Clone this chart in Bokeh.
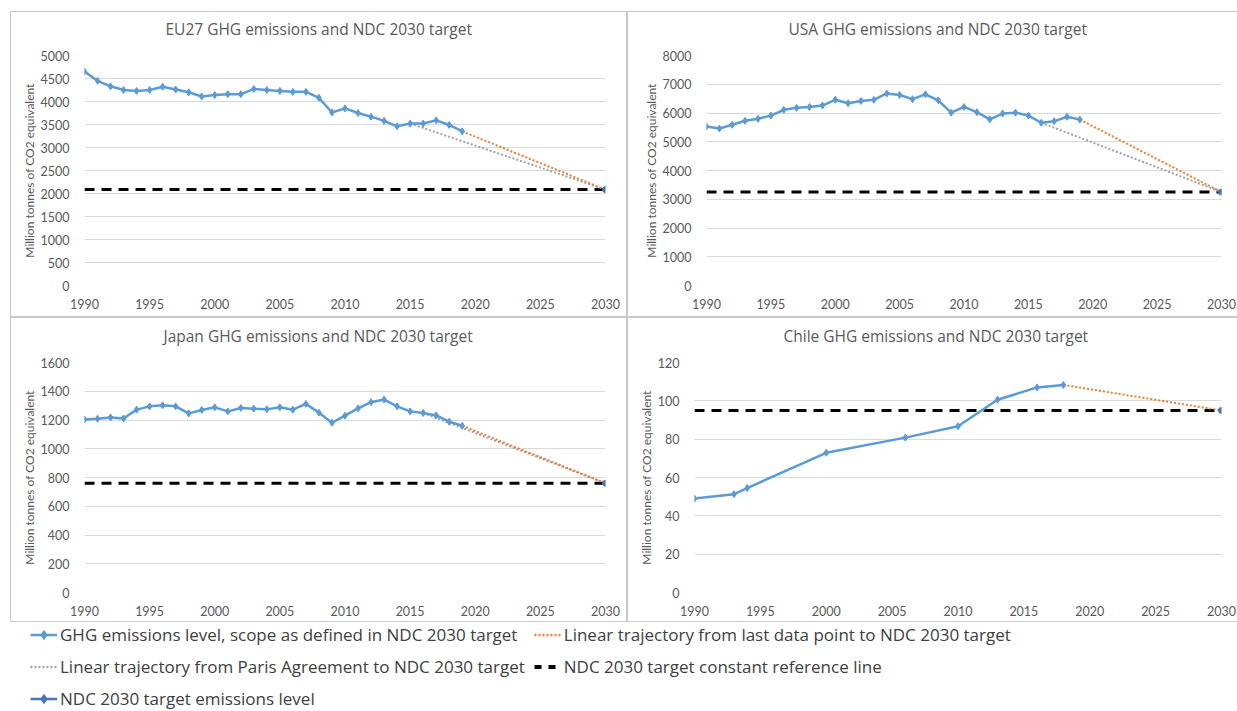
from bokeh.plotting import figure
from bokeh.layouts import column, row
from bokeh.models import Range1d, FixedTicker, Legend, LegendItem, Title
from bokeh.embed import file_html
from bokeh.resources import INLINE

# ---------------- data ----------------
eu_years = list(range(1990, 2020))
eu_values = [4650, 4450, 4330, 4250, 4230, 4250, 4320, 4260, 4200, 4110,
             4140, 4160, 4160, 4270, 4250, 4230, 4210, 4210, 4080, 3760,
             3850, 3750, 3670, 3580, 3460, 3520, 3520, 3590, 3490, 3350]
eu_target = 2085
eu_paris_year = 2015

usa_years = list(range(1990, 2020))
usa_values = [5530, 5460, 5590, 5730, 5800, 5910, 6110, 6180, 6210, 6260,
              6460, 6340, 6420, 6460, 6680, 6630, 6480, 6650, 6440, 6010,
              6210, 6030, 5780, 5980, 6010, 5910, 5660, 5710, 5870, 5770]
usa_target = 3250
usa_paris_year = 2016

jp_years = list(range(1990, 2020))
jp_values = [1204, 1209, 1218, 1211, 1272, 1295, 1302, 1295, 1246, 1270,
             1288, 1260, 1284, 1279, 1274, 1288, 1272, 1312, 1251, 1181,
             1230, 1281, 1324, 1342, 1295, 1260, 1249, 1232, 1188, 1160]
jp_target = 760
jp_paris_year = 2016

cl_years = [1990, 1993, 1994, 2000, 2006, 2010, 2013, 2016, 2018]
cl_values = [49.0, 51.3, 54.5, 72.9, 80.8, 86.7, 100.6, 107.0, 108.3]
cl_target = 95
cl_paris_year = None

target_year = 2030
x_ticks = [1990, 1995, 2000, 2005, 2010, 2015, 2020, 2025, 2030]

titles = ["EU27 GHG emissions and NDC 2030 target",
          "USA GHG emissions and NDC 2030 target",
          "Japan GHG emissions and NDC 2030 target",
          "Chile GHG emissions and NDC 2030 target"]
y_label = "Million tonnes of CO2 equivalent"
legend_labels = ["GHG emissions level, scope as defined in NDC 2030 target",
                 "Linear trajectory from last data point to NDC 2030 target",
                 "Linear trajectory from Paris Agreement to NDC 2030 target",
                 "NDC 2030 target constant reference line",
                 "NDC 2030 target emissions level"]

# ---------------- style ----------------
FONT = "Lato"
TFONT = "Open Sans"
TXT = "#595959"
GRID = "#d9d9d9"
BLUE = "#5b9bd5"
ORANGE = "#ed7d31"
GRAY = "#a0a0a8"
DARKBLUE = "#4472c4"
LEFT_BOX = {"border": "1px solid #c8c8c8"}
RIGHT_BOX = {"border-top": "1px solid #c8c8c8", "border-bottom": "1px solid #c8c8c8",
             "border-left": "1px solid #c8c8c8"}


def make_panel(title, years, vals, target, paris_year, ymax, ystep,
               w, h, ml, mr, mt, mb, toff, box):
    p = figure(width=w, height=h, output_backend="svg", toolbar_location=None,
               title=None,
               x_range=Range1d(years[0], target_year), y_range=Range1d(0, ymax),
               min_border_left=ml, min_border_right=mr,
               min_border_top=mt, min_border_bottom=mb,
               styles=box)
    # spacer between the plot area and the title (closest to the frame)
    p.add_layout(Title(text=" ", text_font_size="1px", standoff=13), "above")
    p.add_layout(Title(text=title, align="left", offset=toff, standoff=0,
                       text_font=TFONT, text_font_size="15.5px",
                       text_font_style="normal", text_color=TXT), "above")
    p.outline_line_color = None
    p.background_fill_color = "white"
    p.border_fill_color = "white"

    p.xaxis.ticker = FixedTicker(ticks=x_ticks)
    p.yaxis.ticker = FixedTicker(ticks=list(range(0, ymax + 1, ystep)))
    for ax in (p.xaxis[0], p.yaxis[0]):
        ax.axis_line_color = None
        ax.major_tick_line_color = None
        ax.minor_tick_line_color = None
        ax.major_label_text_font = FONT
        ax.major_label_text_font_size = "12.5px"
        ax.major_label_text_color = TXT
    p.xaxis.major_label_standoff = 7
    p.yaxis.major_label_standoff = 9
    p.yaxis.axis_label = y_label
    p.yaxis.axis_label_text_font = FONT
    p.yaxis.axis_label_text_font_size = "12px"
    p.yaxis.axis_label_text_font_style = "normal"
    p.yaxis.axis_label_text_color = TXT
    p.yaxis.axis_label_standoff = 1

    p.xgrid.visible = False
    p.ygrid.grid_line_color = GRID
    p.ygrid.grid_line_width = 1

    # constant reference line
    p.line([years[0], target_year], [target, target], line_color="black",
           line_width=3, line_dash="10 7")
    # Paris trajectory
    if paris_year is not None:
        pv = vals[years.index(paris_year)]
        p.line([paris_year, target_year], [pv, target], line_color=GRAY,
               line_width=2, line_dash="2 2")
    # last data point trajectory
    p.line([years[-1], target_year], [vals[-1], target], line_color=ORANGE,
           line_width=2, line_dash="2 2")
    # emissions series
    p.line(years, vals, line_color=BLUE, line_width=2.5)
    p.scatter(years, vals, marker="diamond", size=7, color=BLUE)
    # target point
    p.scatter([target_year], [target], marker="circle", size=6, color=DARKBLUE)
    return p


p1 = make_panel(titles[0], eu_years, eu_values, eu_target, eu_paris_year,
                5000, 500, 617, 306, 73, 23, 41, 33, 81, LEFT_BOX)
p2 = make_panel(titles[1], usa_years, usa_values, usa_target, usa_paris_year,
                8000, 1000, 610, 306, 78, 17, 43, 33, 82, RIGHT_BOX)
p3 = make_panel(titles[2], jp_years, jp_values, jp_target, jp_paris_year,
                1600, 200, 617, 305, 73, 23, 44, 31, 79, LEFT_BOX)
p4 = make_panel(titles[3], cl_years, cl_values, cl_target, cl_paris_year,
                120, 20, 610, 305, 66, 17, 44, 31, 89, RIGHT_BOX)

# ---------------- legend ----------------
lf = figure(width=1227, height=88, output_backend="svg", toolbar_location=None,
            x_range=Range1d(0, 1), y_range=Range1d(0, 1),
            x_axis_location=None, y_axis_location=None, min_border=0)
lf.grid.visible = False
lf.outline_line_color = None

# swatch renderers: their data lie outside the visible range, only the legend shows them
off = [-10, -9]
r_line = lf.line(off, off, line_color=BLUE, line_width=2.5)
r_mark = lf.scatter(off, off, marker="diamond", size=8, color=BLUE)
r_orange = lf.line(off, off, line_color=ORANGE, line_width=2.5, line_dash="2 2")
r_gray = lf.line(off, off, line_color=GRAY, line_width=2.5, line_dash="2 2")
r_black = lf.line(off, off, line_color="black", line_width=4, line_dash="7 7")
r_tline = lf.line(off, off, line_color=DARKBLUE, line_width=2.5)
r_tmark = lf.scatter(off, off, marker="diamond", size=8, color=DARKBLUE)

items = [LegendItem(label=legend_labels[0], renderers=[r_line, r_mark]),
         LegendItem(label=legend_labels[1], renderers=[r_orange]),
         LegendItem(label=legend_labels[2], renderers=[r_gray]),
         LegendItem(label=legend_labels[3], renderers=[r_black]),
         LegendItem(label=legend_labels[4], renderers=[r_tline, r_tmark])]

legend = Legend(items=items, orientation="horizontal", ncols=2,
                location=(20, 0), glyph_width=27, glyph_height=23,
                label_height=23, spacing=9, label_standoff=3,
                padding=0, margin=0, border_line_color=None,
                background_fill_alpha=0,
                label_text_font=TFONT, label_text_font_size="17px",
                label_text_color="#404040")
lf.add_layout(legend)

layout = column(row(p1, p2), row(p3, p4), lf, margin=(11, 0, 0, 10))

open("out.html", "w").write(file_html(layout, INLINE))
